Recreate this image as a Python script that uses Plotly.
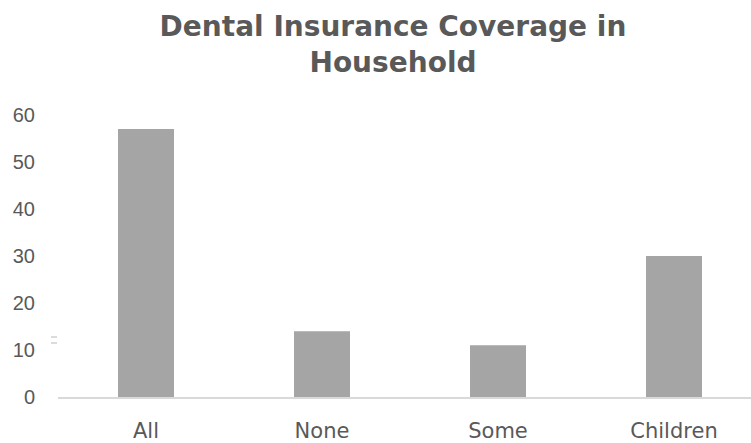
import plotly.graph_objects as go

# Household dental insurance coverage
categories = ["All", "None", "Some", "Children"]
counts = [57, 14, 11, 30]
y_ticks = [0, 10, 20, 30, 40, 50, 60]

W, H = 751, 443
M_L, M_R, M_T, M_B = 58, 0, 115, 44
plot_w = W - M_L - M_R
cat_px = 176  # pixel spacing between category centres
x_hi = -0.5 + plot_w / cat_px

fig = go.Figure(
    go.Bar(
        x=list(range(len(categories))),
        y=counts,
        width=56 / cat_px,
        marker=dict(color="#a5a5a5", line=dict(width=0)),
        hoverinfo="skip",
    )
)

fig.update_layout(
    width=W,
    height=H,
    margin=dict(l=M_L, r=M_R, t=M_T, b=M_B),
    paper_bgcolor="white",
    plot_bgcolor="white",
    showlegend=False,
    title=dict(
        text="<b>Dental Insurance Coverage in<br>Household</b>",
        x=393 / W,
        xref="container",
        xanchor="center",
        y=1 - 36 / H,
        yref="container",
        yanchor="top",
        font=dict(family="DejaVu Sans", size=28, color="#595959"),
    ),
    xaxis=dict(
        range=[-0.5, x_hi],
        tickmode="array",
        tickvals=list(range(len(categories))),
        ticktext=categories,
        showgrid=False,
        zeroline=False,
        showline=True,
        linecolor="#d9d9d9",
        linewidth=2,
        ticks="",
        ticklabelstandoff=14,
        tickfont=dict(family="DejaVu Sans", size=21, color="#595959"),
    ),
    yaxis=dict(
        range=[0, 60],
        tickmode="array",
        tickvals=y_ticks,
        showgrid=False,
        zeroline=False,
        showline=False,
        ticks="",
        ticklabelstandoff=22,
        tickfont=dict(family="Liberation Sans", size=20, color="#595959"),
    ),
)

# two faint dashes beside the value axis
for yv in (12.76, 11.49):
    fig.add_shape(
        type="line",
        xref="paper",
        yref="y",
        x0=-7 / plot_w,
        x1=-1 / plot_w,
        y0=yv,
        y1=yv,
        line=dict(color="#d0d0d0", width=1.5),
    )

fig.write_html("out.html")
